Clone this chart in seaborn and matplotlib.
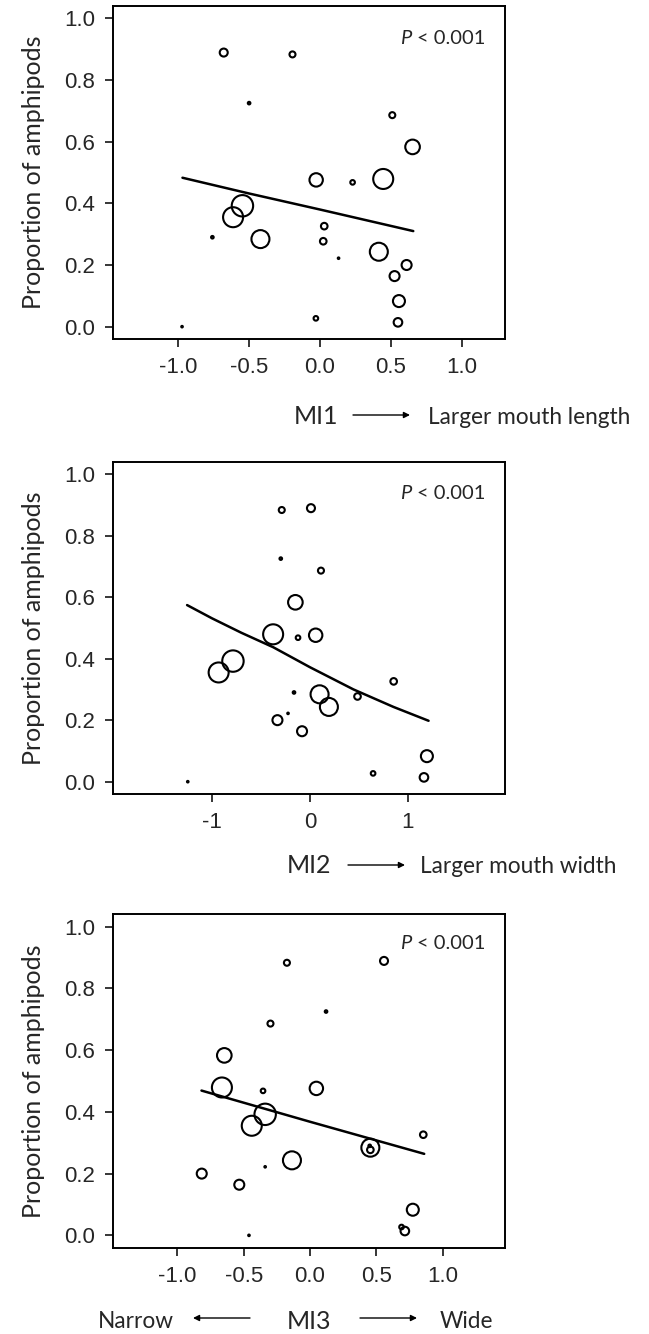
import numpy as np
import pandas as pd
import matplotlib.pyplot as plt
import seaborn as sns
from matplotlib.patches import FancyArrowPatch

# proportion of amphipods in the diet (same fish groups in every panel)
prop = [0.883, 0.889, 0.725, 0.686, 0.583, 0.476, 0.468, 0.479, 0.392, 0.355, 0.284,
        0.290, 0.326, 0.277, 0.222, 0.243, 0.200, 0.164, 0.083, 0.014, 0.027, 0.000]
# relative symbol size of each group (circle radius)
weight = [3.0, 4.0, 1.3, 3.0, 7.3, 6.7, 2.3, 10.0, 10.7, 10.0, 9.0,
          1.3, 3.3, 3.3, 0.8, 9.0, 5.0, 5.0, 6.0, 4.3, 2.3, 0.8]
# morphological indices
mi1 = [-0.193, -0.678, -0.499, 0.511, 0.654, -0.026, 0.231, 0.447, -0.546, -0.612, -0.419,
       -0.758, 0.031, 0.024, 0.132, 0.416, 0.612, 0.527, 0.558, 0.551, -0.028, -0.972]
mi2 = [-0.288, 0.010, -0.298, 0.112, -0.149, 0.058, -0.122, -0.376, -0.786, -0.932, 0.098,
       -0.163, 0.854, 0.485, -0.224, 0.193, -0.332, -0.081, 1.193, 1.163, 0.644, -1.247]
mi3 = [-0.174, 0.558, 0.121, -0.298, -0.646, 0.048, -0.354, -0.664, -0.338, -0.439, 0.455,
       0.450, 0.854, 0.455, -0.338, -0.136, -0.816, -0.533, 0.775, 0.715, 0.690, -0.460]

# fitted curves
fit1_x = [-0.969, -0.5, 0.0, 0.659]
fit1_y = [0.483, 0.432, 0.380, 0.310]
fit2_x = [-1.254, -1.0, -0.7, -0.375, 0.0, 0.443, 0.852, 1.21]
fit2_y = [0.574, 0.531, 0.484, 0.437, 0.372, 0.300, 0.243, 0.198]
fit3_x = [-0.818, 0.0, 0.861]
fit3_y = [0.469, 0.368, 0.264]

xticks1 = [-1.0, -0.5, 0.0, 0.5, 1.0]
xticks2 = [-1, 0, 1]
yticks = [0.0, 0.2, 0.4, 0.6, 0.8, 1.0]

sns.set_style("white")
plt.rcParams['font.family'] = ['Lato', 'DejaVu Sans']
plt.rcParams['axes.unicode_minus'] = False

W, H = 649, 1334
fig = plt.figure(figsize=(W / 100, H / 100), dpi=100)


def fx(x):
    return x / W


def fy(y):
    return 1 - y / H


df = pd.DataFrame({'prop': prop, 'weight': weight, 'MI1': mi1, 'MI2': mi2, 'MI3': mi3})
df['area'] = (2 * df['weight'] * 0.72) ** 2

panels = [
    dict(col='MI1', top=6, bottom=339, xlim=(-1.459, 1.306), ticks=xticks1,
         fx=fit1_x, fy=fit1_y, p_y=0.886),
    dict(col='MI2', top=461.7, bottom=794, xlim=(-2.01, 1.99), ticks=xticks2,
         fx=fit2_x, fy=fit2_y, p_y=0.887),
    dict(col='MI3', top=914.3, bottom=1247.7, xlim=(-1.485, 1.47), ticks=xticks1,
         fx=fit3_x, fy=fit3_y, p_y=0.895),
]

amin, amax = df['area'].min(), df['area'].max()
for p in panels:
    ax = fig.add_axes([fx(113), fy(p['bottom']), 392 / W, (p['bottom'] - p['top']) / H])
    sns.scatterplot(data=df, x=p['col'], y='prop', size='area', sizes=(amin, amax),
                    marker='o', legend=False, ax=ax, linewidth=1.5)
    pts = ax.collections[-1]
    pts.set_facecolor('none')
    pts.set_edgecolor('black')
    sns.lineplot(x=p['fx'], y=p['fy'], color='black', lw=1.8, ax=ax)
    ax.set_xlim(*p['xlim'])
    ax.set_ylim(-0.04, 1.04)
    ax.set_xticks(p['ticks'])
    if p['col'] == 'MI2':
        ax.set_xticklabels([f"{t:d}" for t in p['ticks']])
    else:
        ax.set_xticklabels([f"{t:.1f}" for t in p['ticks']])
    ax.set_yticks(yticks)
    ax.set_yticklabels([f"{t:.1f}" for t in yticks])
    ax.set_xlabel('')
    ax.set_ylabel('')
    ax.tick_params(direction='out', length=6, width=1.1, pad=7, color='black',
                   bottom=True, left=True, labelsize=16,
                   labelfontfamily='Liberation Sans')
    for s in ax.spines.values():
        s.set_linewidth(1.4)
        s.set_color('black')
    ax.text(0.732, p['p_y'], 'P', transform=ax.transAxes, style='italic', fontsize=14.5)
    ax.text(0.775, p['p_y'], '< 0.001', transform=ax.transAxes, fontsize=14.5)
    fig.text(fx(34), fy((p['top'] + p['bottom']) / 2), 'Proportion of amphipods',
             rotation=90, ha='center', va='center', fontsize=18)

arrow = dict(arrowstyle='-|>', color='black', lw=1.0, mutation_scale=9,
             shrinkA=0, shrinkB=0)

# panel 1 axis label
fig.text(fx(294), fy(424), 'MI1', fontsize=18, va='baseline')
fig.text(fx(428), fy(424), 'Larger mouth length', fontsize=16.3, va='baseline')
fig.add_artist(FancyArrowPatch((fx(353), fy(415)), (fx(410), fy(415)),
                               transform=fig.transFigure, **arrow))

# panel 2 axis label
fig.text(fx(287), fy(872.7), 'MI2', fontsize=18, va='baseline')
fig.text(fx(420), fy(872.7), 'Larger mouth width', fontsize=16.3, va='baseline')
fig.add_artist(FancyArrowPatch((fx(348), fy(865)), (fx(405), fy(865)),
                               transform=fig.transFigure, **arrow))

# panel 3 axis label
fig.text(fx(98), fy(1328), 'Narrow', fontsize=16.3, va='baseline')
fig.text(fx(287), fy(1329), 'MI3', fontsize=18, va='baseline')
fig.text(fx(440), fy(1328), 'Wide', fontsize=16.3, va='baseline')
fig.add_artist(FancyArrowPatch((fx(250), fy(1318)), (fx(193), fy(1318)),
                               transform=fig.transFigure, **arrow))
fig.add_artist(FancyArrowPatch((fx(360), fy(1318)), (fx(417), fy(1318)),
                               transform=fig.transFigure, **arrow))

fig.savefig('out.png', dpi=100)
